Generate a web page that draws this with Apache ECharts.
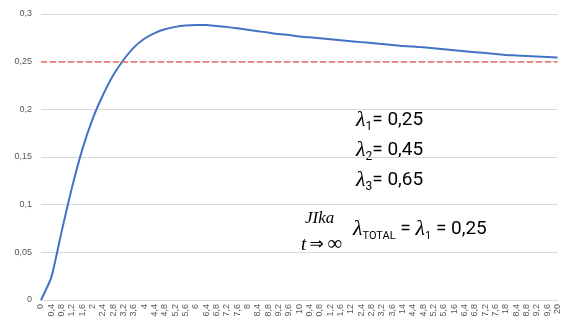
<!DOCTYPE html>
<html>
<head>
<meta charset="utf-8">
<script src="https://cdn.jsdelivr.net/npm/echarts@6/dist/echarts.min.js"></script>
<style>
  html, body { margin: 0; padding: 0; background: #ffffff; }
  #chart { width: 562px; height: 320px; }
</style>
</head>
<body>
<div id="chart"></div>
<script>
// Time points (category axis), step 0.4
const times = ['0','0.4','0.8','1.2','1.6','2','2.4','2.8','3.2','3.6',
  '4','4.4','4.8','5.2','5.6','6','6.4','6.8','7.2','7.6',
  '8','8.4','8.8','9.2','9.6','10','10.4','10.8','11.2','11.6',
  '12','12.4','12.8','13.2','13.6','14','14.4','14.8','15.2','15.6',
  '16','16.4','16.8','17.2','17.6','18','18.4','18.8','19.2','19.6','20'];

// Tick labels as printed under the axis
const tickLabels = ['0','0,4','0,8','1,2','1,6','2','2,4','2,8','3,2','3,6',
  '4','4,4','4,8','5,2','5,6','6','6,4','6,8','7,2','7,6',
  '8','8,4','8,8','9,2','9,6','10','0,4','0,8','1,2','1,6',
  '12','2,4','2,8','3,2','3,6','14','4,4','4,8','5,2','5,6',
  '16','6,4','6,8','7,2','7,6','18','8,4','8,8','9,2','9,6','20'];

// Total failure rate over time
const totalRate = [0, 0.024, 0.072, 0.118, 0.158, 0.190, 0.215, 0.236, 0.252, 0.265,
  0.274, 0.280, 0.284, 0.2865, 0.288, 0.2885, 0.2885, 0.2875, 0.2865, 0.285,
  0.2835, 0.282, 0.2805, 0.279, 0.278, 0.2765, 0.2755, 0.2745, 0.2735, 0.2725,
  0.2715, 0.2705, 0.2695, 0.2685, 0.2675, 0.2665, 0.266, 0.265, 0.264, 0.263,
  0.262, 0.261, 0.260, 0.259, 0.258, 0.257, 0.2565, 0.256, 0.2555, 0.255, 0.2545];

// Component rates
const lambdas = [0.25, 0.45, 0.65];
const lambdaText = ['0,25', '0,45', '0,65'];

const yTicks = { min: 0, max: 0.3, step: 0.05 };

const sans = "'Roboto', 'Liberation Sans', sans-serif";
const serif = "'Liberation Serif', 'DejaVu Serif', serif";

// Shared rich-text styles for the lambda formulas
const formulaRich = {
  l: { fontFamily: serif, fontStyle: 'italic', fontSize: 22, lineHeight: 26, fill: '#000' },
  s: { fontFamily: sans, fontSize: 12, lineHeight: 9, verticalAlign: 'bottom', fill: '#000' },
  n: { fontFamily: sans, fontSize: 19, lineHeight: 26, fill: '#000' }
};

const chart = echarts.init(document.getElementById('chart'), null, { renderer: 'canvas' });

const graphics = lambdas.map(function (v, i) {
  return {
    type: 'text', left: 356, top: 109 + i * 30,
    style: { text: '{l|λ}{s|' + (i + 1) + '}{n|= ' + lambdaText[i] + '}', rich: formulaRich }
  };
});

graphics.push({
  type: 'text', left: 305, top: 210,
  style: { text: 'JIka', font: 'italic 17px ' + serif, fill: '#000' }
});
graphics.push({
  type: 'text', left: 301, top: 234,
  style: {
    text: '{t|t} {a|⇒} {i|∞}',
    rich: {
      t: { fontFamily: serif, fontStyle: 'italic', fontSize: 19, fill: '#000' },
      a: { fontFamily: "'DejaVu Sans', sans-serif", fontSize: 17, fill: '#000' },
      i: { fontFamily: serif, fontSize: 21, fill: '#000' }
    }
  }
});
graphics.push({
  type: 'text', left: 353, top: 218,
  style: {
    text: '{l|λ}{s|TOTAL}{n| = }{l|λ}{s|1}{n| = ' + lambdaText[0] + '}',
    rich: {
      l: formulaRich.l,
      s: { fontFamily: sans, fontSize: 11, lineHeight: 9, verticalAlign: 'bottom', fill: '#000' },
      n: formulaRich.n
    }
  }
});

chart.setOption({
  animation: false,
  backgroundColor: '#ffffff',
  grid: { left: 41, right: 4, top: 14, bottom: 20, containLabel: false },
  xAxis: {
    type: 'category',
    data: times,
    boundaryGap: false,
    axisLine: { lineStyle: { color: '#d9d9d9', width: 1 } },
    axisTick: { show: false },
    axisLabel: {
      interval: 0,
      rotate: 90,
      margin: 4,
      fontSize: 9,
      fontFamily: "'Liberation Sans', sans-serif",
      color: '#595959',
      formatter: function (v, i) { return tickLabels[i]; }
    },
    splitLine: { show: false }
  },
  yAxis: {
    type: 'value',
    min: yTicks.min,
    max: yTicks.max,
    interval: yTicks.step,
    axisLine: { show: false },
    axisTick: { show: false },
    axisLabel: {
      margin: 9,
      fontSize: 9,
      fontFamily: "'Liberation Sans', sans-serif",
      color: '#595959',
      formatter: function (v) { return String(+v.toFixed(2)).replace('.', ','); }
    },
    splitLine: { lineStyle: { color: '#d9d9d9', width: 1 } }
  },
  series: [{
    type: 'line',
    data: totalRate,
    symbol: 'none',
    smooth: 0.2,
    lineStyle: { color: '#4472c4', width: 2 },
    markLine: {
      silent: true,
      symbol: ['none', 'none'],
      label: { show: false },
      lineStyle: { color: '#e8706a', width: 1.5, type: [6, 3] },
      data: [{ yAxis: lambdas[0] }]
    }
  }],
  graphic: graphics
});
</script>
</body>
</html>
